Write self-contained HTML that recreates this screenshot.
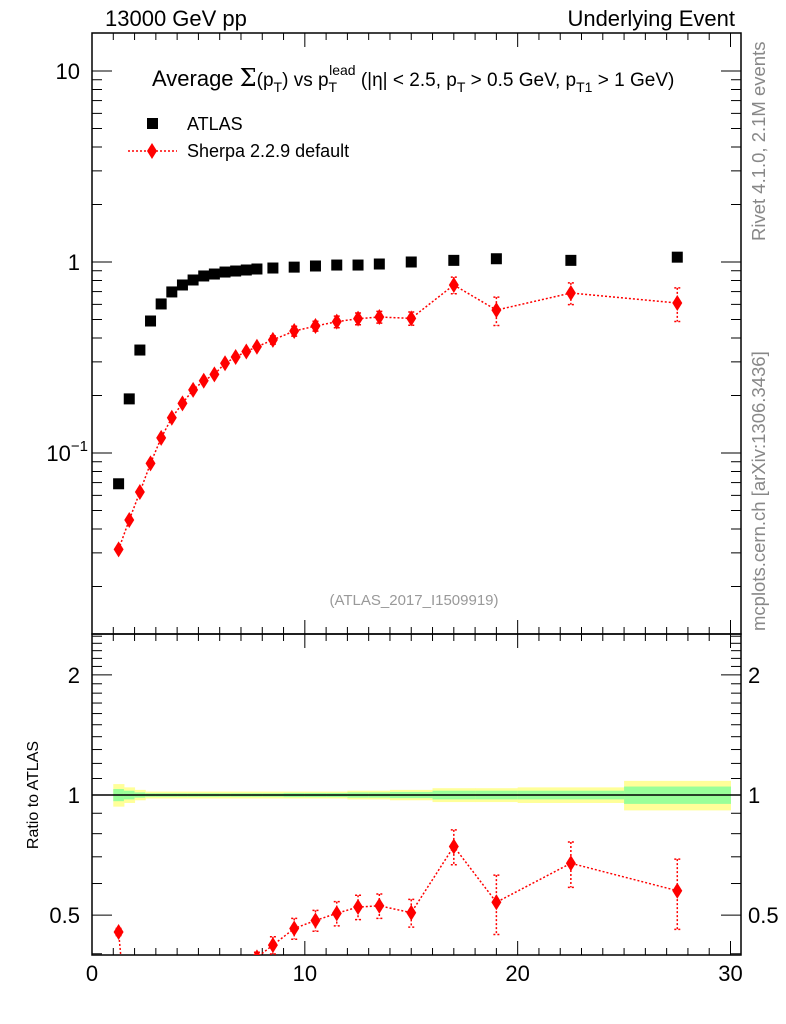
<!DOCTYPE html>
<html><head><meta charset="utf-8"><style>
html,body{margin:0;background:#fff;overflow:hidden;width:786px;height:1024px;}
svg{display:block;}
svg text{font-family:"Liberation Sans",Arial,sans-serif;}
</style></head><body>
<svg id="chart" width="786" height="1024" xmlns="http://www.w3.org/2000/svg">
<defs>
<clipPath id="mainClip"><rect x="92" y="33" width="649" height="601"/></clipPath>
<clipPath id="ratioClip"><rect x="92" y="634" width="649" height="321"/></clipPath>
</defs>
<text x="105" y="26" font-size="22">13000 GeV pp</text>
<text x="735" y="26" font-size="22" text-anchor="end">Underlying Event</text>
<text x="152" y="86" font-size="22">Average <tspan font-family="DejaVu Serif,serif" font-size="24">Σ</tspan><tspan font-size="19">(p</tspan><tspan font-size="14" dy="6">T</tspan><tspan font-size="19" dy="-6">)</tspan><tspan font-size="19"> vs p</tspan><tspan font-size="14" dy="6">T</tspan><tspan font-size="14" dx="-8" dy="-17">lead</tspan><tspan font-size="19" dy="11"> (|η| &lt; 2.5, p</tspan><tspan font-size="14" dy="6">T</tspan><tspan font-size="19" dy="-6"> &gt; 0.5 GeV, p</tspan><tspan font-size="14" dy="6">T1</tspan><tspan font-size="19" dy="-6"> &gt; 1 GeV)</tspan></text>
<g>
<rect x="147" y="118" width="11" height="11" fill="#000"/>
<text x="187" y="130" font-size="18">ATLAS</text>
<line x1="128" y1="151" x2="177" y2="151" stroke="red" stroke-width="1.5" stroke-dasharray="2,2"/>
<polygon points="152,143 157,151 152,159 147,151" fill="red"/>
<text x="187" y="157" font-size="18">Sherpa 2.2.9 default</text>
</g>
<text x="414" y="605" font-size="15" fill="#999" text-anchor="middle">(ATLAS_2017_I1509919)</text>
<text transform="translate(765,241) rotate(-90)" font-size="18.5" fill="#888">Rivet 4.1.0,  2.1M events</text>
<text transform="translate(765,631) rotate(-90)" font-size="18.5" fill="#888">mcplots.cern.ch [arXiv:1306.3436]</text>
<text transform="translate(38,795) rotate(-90)" font-size="16" text-anchor="middle">Ratio to ATLAS</text>
<g id="bands" clip-path="url(#ratioClip)"></g>
<g id="axes"></g>
<g id="mainMarks" clip-path="url(#mainClip)"></g>
<g id="ratioMarks" clip-path="url(#ratioClip)"></g>
</svg>
<script>
const binEdges=[1,1.5,2,2.5,3,3.5,4,4.5,5,5.5,6,6.5,7,7.5,8,9,10,11,12,13,14,16,18,20,25,30];
const xCenters=[1.25,1.75,2.25,2.75,3.25,3.75,4.25,4.75,5.25,5.75,6.25,6.75,7.25,7.75,8.5,9.5,10.5,11.5,12.5,13.5,15,17,19,22.5,27.5];
const atlasValues=[0.069,0.192,0.346,0.491,0.603,0.697,0.758,0.805,0.845,0.865,0.886,0.897,0.908,0.919,0.93,0.94,0.953,0.964,0.964,0.976,1.0,1.02,1.04,1.02,1.06];
const sherpaValues=[0.0313,0.0446,0.0625,0.0883,0.120,0.153,0.182,0.214,0.239,0.258,0.295,0.318,0.340,0.360,0.391,0.435,0.462,0.487,0.505,0.515,0.507,0.758,0.56,0.688,0.61];
const sherpaRelErr=[0.02,0.02,0.02,0.02,0.02,0.02,0.02,0.02,0.03,0.03,0.03,0.03,0.03,0.03,0.05,0.06,0.06,0.07,0.07,0.07,0.08,0.1,0.17,0.13,0.2];
const bandYellow=[0.065,0.045,0.03,0.02,0.02,0.02,0.02,0.02,0.02,0.02,0.02,0.02,0.02,0.02,0.02,0.02,0.02,0.02,0.025,0.025,0.03,0.04,0.04,0.045,0.085];
const bandGreen=[0.035,0.025,0.015,0.01,0.01,0.01,0.01,0.01,0.01,0.01,0.01,0.01,0.01,0.01,0.01,0.012,0.012,0.012,0.015,0.015,0.018,0.025,0.025,0.025,0.05];
const xTickLabels=[0,10,20,30];
const mainYTicks=[10,1,0.1];
const ratioYTicks=[0.5,1,2];

const NS="http://www.w3.org/2000/svg";
const L=92,R=741,MT=33,MB=634,RT=634,RB=955;
const X=v=>92+v*21.283;
const YM=v=>262-191*Math.log10(v);
const YR=v=>795-399*Math.log10(v);
function mk(parent,tag,attrs){const e=document.createElementNS(NS,tag);for(const k in attrs)e.setAttribute(k,attrs[k]);parent.appendChild(e);return e;}
const axes=document.getElementById('axes');
const bands=document.getElementById('bands');
const mm=document.getElementById('mainMarks');
const rm=document.getElementById('ratioMarks');

for(let i=0;i<xCenters.length;i++){
  const x0=X(binEdges[i]),x1=X(binEdges[i+1]);
  const y=mk(bands,'rect',{x:x0,y:YR(1+bandYellow[i]),width:x1-x0+0.5,height:YR(1-bandYellow[i])-YR(1+bandYellow[i]),fill:'#ffff99'});
  
  
  const g=mk(bands,'rect',{x:x0,y:YR(1+bandGreen[i]),width:x1-x0+0.5,height:YR(1-bandGreen[i])-YR(1+bandGreen[i]),fill:'#99ff99'});
  
  
}
const ref=mk(axes,'line',{x1:L,x2:R,y1:YR(1),y2:YR(1),stroke:'#000','stroke-width':1.5});



const f1=mk(axes,'rect',{x:L,y:MT,width:R-L,height:MB-MT,fill:'none',stroke:'#000','stroke-width':1.5});


const f2=mk(axes,'rect',{x:L,y:RT,width:R-L,height:RB-RT,fill:'none',stroke:'#000','stroke-width':1.5});



for(let v=1;v<=30;v++){
  const len=(v%10===0)?14:7;const x=X(v);
  for(const [top,bot] of [[MT,MB],[RT,RB]]){
    mk(axes,'line',{x1:x,x2:x,y1:bot,y2:bot-len,stroke:'#000','stroke-width':1});
    mk(axes,'line',{x1:x,x2:x,y1:top,y2:top+len,stroke:'#000','stroke-width':1});
  }
}
for(const v of xTickLabels){
  const t=mk(axes,'text',{x:X(v),y:RB+26,'font-size':22,'text-anchor':'middle'});
  t.textContent=v;
  
  
}
for(let d=-2;d<=1;d++){
  for(let m=1;m<=9;m++){
    const v=m*Math.pow(10,d);const y=YM(v);
    if(y<MT||y>MB)continue;
    const len=m===1?20:10;
    mk(axes,'line',{x1:L,x2:L+len,y1:y,y2:y,stroke:'#000','stroke-width':1});
    mk(axes,'line',{x1:R,x2:R-len,y1:y,y2:y,stroke:'#000','stroke-width':1});
  }
}
mainYTicks.forEach(v=>{
  const t=mk(axes,'text',{x:80,y:YM(v)+8,'font-size':22,'text-anchor':'end'});
  
  
  if(v>=1)t.textContent=v;
  else{t.textContent='10';const s=mk(t,'tspan',{'font-size':15,dy:-10});s.textContent='−1';}
  if(v<1)t.setAttribute('x',88);
});
const rt=[];
for(let v=0.4;v<1;v+=0.1)rt.push(+v.toFixed(2));
for(let v=1;v<2.6;v+=0.1)rt.push(+v.toFixed(2));
rt.forEach(v=>{
  const y=YR(v);if(y<RT||y>RB)return;
  const maj=ratioYTicks.includes(v);const len=maj?20:10;
  mk(axes,'line',{x1:L,x2:L+len,y1:y,y2:y,stroke:'#000','stroke-width':1});
  mk(axes,'line',{x1:R,x2:R-len,y1:y,y2:y,stroke:'#000','stroke-width':1});
});
ratioYTicks.forEach(v=>{
  for(const [x,a] of [[80,'end'],[748,'start']]){
    const t=mk(axes,'text',{x:x,y:YR(v)+8,'font-size':22,'text-anchor':a});
    t.textContent=v;
    
    
  }
});

function diamond(g,x,y,name){
  const p=mk(g,'polygon',{points:`${x},${y-8} ${x+5},${y} ${x},${y+8} ${x-5},${y}`,fill:'red'});
  
  
}
function errbar(g,x,y1,y2){
  mk(g,'line',{x1:x,x2:x,y1:y1,y2:y2,stroke:'red','stroke-width':1.5,'stroke-dasharray':'2,2'});
  mk(g,'line',{x1:x-3,x2:x+3,y1:y1,y2:y1,stroke:'red','stroke-width':1.5,'stroke-dasharray':'2,2'});
  mk(g,'line',{x1:x-3,x2:x+3,y1:y2,y2:y2,stroke:'red','stroke-width':1.5,'stroke-dasharray':'2,2'});
}
const sl=mk(mm,'polyline',{points:xCenters.map((x,i)=>X(x)+','+YM(sherpaValues[i])).join(' '),fill:'none',stroke:'red','stroke-width':1.5,'stroke-dasharray':'2,2'});


xCenters.forEach((x,i)=>{
  const s=mk(mm,'rect',{x:X(x)-5.5,y:YM(atlasValues[i])-5.5,width:11,height:11,fill:'#000'});
  
  
  const v=sherpaValues[i],e=sherpaRelErr[i];
  if(e>0.03)errbar(mm,X(x),YM(v*(1+e)),YM(v*(1-e)));
  diamond(mm,X(x),YM(v),'sherpa-point');
});
const ratios=xCenters.map((x,i)=>sherpaValues[i]/atlasValues[i]);
const rl=mk(rm,'polyline',{points:xCenters.map((x,i)=>X(x)+','+YR(ratios[i])).join(' '),fill:'none',stroke:'red','stroke-width':1.5,'stroke-dasharray':'2,2'});


xCenters.forEach((x,i)=>{
  const r=ratios[i],e=sherpaRelErr[i];
  errbar(rm,X(x),YR(r*(1+e)),YR(r*(1-e)));
  diamond(rm,X(x),YR(r),'ratio-point');
});
</script>
</body></html>
